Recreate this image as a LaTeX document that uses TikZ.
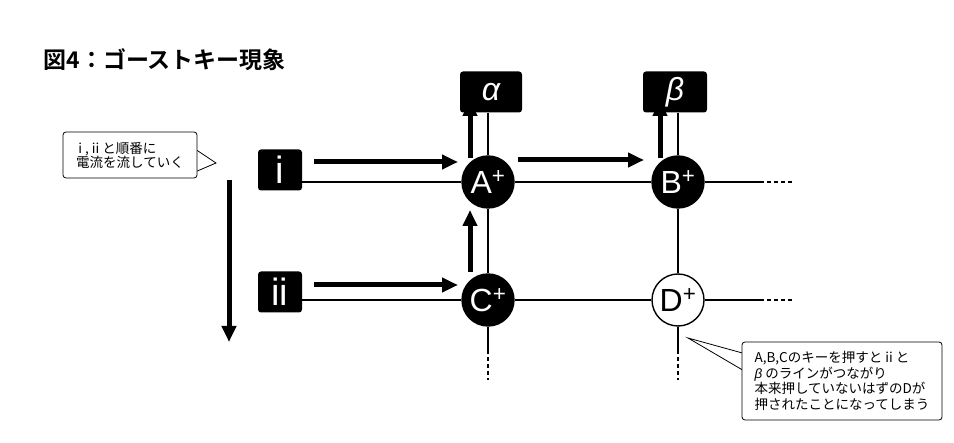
\documentclass[tikz,border=0pt]{standalone}
\usepackage{fontspec}
\setmainfont{Liberation Sans}
\newfontfamily\jpfont{Noto Sans CJK JP}
\newfontfamily\jpbold{Noto Sans CJK JP Bold}
\usetikzlibrary{arrows.meta,positioning}
\tikzstyle{key}=[circle,fill=black,draw=black,line width=1.4pt,minimum size=52pt,
  inner sep=0pt,text=white,font=\fontsize{32}{32}\selectfont]
\tikzstyle{ghost}=[circle,fill=white,draw=black,line width=1.4pt,minimum size=52pt,
  inner sep=0pt,font=\fontsize{32}{32}\selectfont]
\tikzstyle{lbl}=[rounded corners=3pt,fill=black,text=white,minimum height=41pt,
  inner sep=0pt,font=\fontsize{38}{38}\selectfont]
\tikzstyle{wire}=[line width=2.4pt]
\tikzstyle{flow}=[line width=5pt,-{Triangle[length=16pt,width=14pt]}]
\tikzstyle{note}=[draw=black,rounded corners=3pt,fill=white,align=left,
  line width=0.8pt,font=\jpfont\fontsize{13.5}{14}\selectfont]
\tikzstyle{none}=[]
\begin{document}
\begin{tikzpicture}[x=1pt,y=-1pt]
		\useasboundingbox (0,0) rectangle (954,443);
		\node [anchor=west,font=\jpbold\fontsize{23}{23}\selectfont] (title) at (40,60) {図4：ゴーストキー現象};
		% keys
		\node [style=key] (A) at (488,182) {A\textsuperscript{+}};
		\node [style=key] (B) at (678,182) {B\textsuperscript{+}};
		\node [style=key] (C) at (488,300) {C\textsuperscript{+}};
		\node [style=ghost] (D) at (678,300) {D\textsuperscript{+}};
		% row and column labels
		\node [style=lbl,minimum width=44pt] (i) at (280,170) {i};
		\node [style=lbl,minimum width=44pt] (ii) at (280,292) {ii};
		\node [style=lbl,minimum width=62pt,font=\itshape\fontsize{32}{32}\selectfont] (al) at (491,92) {α};
		\node [style=lbl,minimum width=64pt,font=\itshape\fontsize{32}{32}\selectfont] (be) at (675,92) {β};
		% free ends
		\coordinate (r1) at (760,182);
		\coordinate (r1d) at (792,182);
		\coordinate (r2) at (760,300);
		\coordinate (r2d) at (792,300);
		\coordinate (c1) at (488,350);
		\coordinate (c1d) at (488,380);
		\coordinate (c2) at (678,350);
		\coordinate (c2d) at (678,380);
		% wires
		\draw [style=wire] (i.east |- A) to (A);
		\draw [style=wire] (A) to (B);
		\draw [style=wire] (B) to (r1);
		\draw [style=wire,dashed,dash pattern=on 4pt off 3pt] (r1) to (r1d);
		\draw [style=wire] (ii.east |- C) to (C);
		\draw [style=wire] (C) to (D);
		\draw [style=wire] (D) to (r2);
		\draw [style=wire,dashed,dash pattern=on 4pt off 3pt] (r2) to (r2d);
		\draw [style=wire] (al.south -| A) to (A);
		\draw [style=wire] (A) to (C);
		\draw [style=wire] (C) to (c1);
		\draw [style=wire,dashed,dash pattern=on 4pt off 3pt] (c1) to (c1d);
		\draw [style=wire] (be.south -| B) to (B);
		\draw [style=wire] (B) to (D);
		\draw [style=wire] (D) to (c2);
		\draw [style=wire,dashed,dash pattern=on 4pt off 3pt] (c2) to (c2d);
		% current flow
		\coordinate (f1) at (314,162);
		\coordinate (f1e) at (458,162);
		\coordinate (f2) at (314,285);
		\coordinate (f2e) at (458,285);
		\coordinate (f3) at (518,160);
		\coordinate (f3e) at (644,160);
		\coordinate (u1) at (470,158);
		\coordinate (u1e) at (470,100);
		\coordinate (u2) at (470,272);
		\coordinate (u2e) at (470,210);
		\coordinate (u3) at (660,158);
		\coordinate (u3e) at (660,100);
		\coordinate (d1) at (229,180);
		\coordinate (d1e) at (229,342);
		\draw [style=flow] (f1) to (f1e);
		\draw [style=flow] (f2) to (f2e);
		\draw [style=flow] (f3) to (f3e);
		\draw [style=flow] (u1) to (u1e);
		\draw [style=flow] (u2) to (u2e);
		\draw [style=flow] (u3) to (u3e);
		\draw [style=flow] (d1) to (d1e);
		% notes
		\coordinate (p1) at (216,163);
		\draw [line width=0.8pt,fill=white] (195,149) -- (p1) -- (195,172) -- cycle;
		\node [style=note,minimum width=134pt,minimum height=46pt] (n1) at (130,155)
			{\,i , ii と順番に\\電流を流していく};
		\coordinate (p2) at (688,338);
		\draw [line width=0.8pt,fill=white] (746,354) -- (p2) -- (746,372) -- cycle;
		\node [style=note,minimum width=200pt,minimum height=78pt,font=\jpfont\fontsize{13.5}{15.5}\selectfont] (n2) at (842,381)
			{A,B,Cのキーを押すと ii と\\{\rmfamily\itshape β} のラインがつながり\\本来押していないはずのDが\\押されたことになってしまう};
\end{tikzpicture}
\end{document}
